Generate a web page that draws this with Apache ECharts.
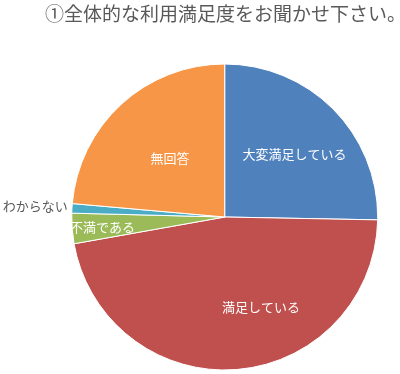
<!DOCTYPE html>
<html><head><meta charset="utf-8">
<script src="https://cdn.jsdelivr.net/npm/echarts@6/dist/echarts.min.js"></script>
<style>html,body{margin:0;padding:0;background:#fff}#c{width:400px;height:374px}</style>
</head><body><div id="c"></div>
<script>
const titleText = '①全体的な利用満足度をお聞かせ下さい。';
const categories = ['大変満足している', '満足している', '不満である', 'わからない', '無回答'];
const values = [25.3, 46.9, 3.2, 1.0, 23.6];
const colors = ['#4F81BD', '#C0504D', '#9BBB59', '#4BACC6', '#F79646'];
const labelShifts = [[13, -7], [30, 11], [-43, 4], [-110, -6], [-1, 0]];
const labelColors = ['#fff','#fff','#fff','#595959','#fff'];
const font = '"Noto Sans CJK JP", sans-serif';
const chart = echarts.init(document.getElementById('c'));
chart.setOption({
  animation: false,
  title: { text: titleText, left: 45, top: 4, padding: 0,
    textStyle: { fontFamily: font, fontSize: 19, fontWeight: 'normal', color: '#595959' } },
  series: [{
    type: 'pie', center: [224.7, 217], radius: [0, 153], startAngle: 90, clockwise: true,
    avoidLabelOverlap: false,
    itemStyle: { borderColor: '#fff', borderWidth: 1 },
    label: { position: 'inside', fontFamily: font, fontSize: 13, formatter: '{b}' },
    labelLine: { show: false },
    labelLayout: function (p) { return { dx: labelShifts[p.dataIndex][0], dy: labelShifts[p.dataIndex][1] }; },
    emphasis: { disabled: true },
    data: categories.map((c, i) => ({
      name: c, value: values[i], itemStyle: { color: colors[i] },
      label: { color: labelColors[i] }
    }))
  }]
});
</script></body></html>
